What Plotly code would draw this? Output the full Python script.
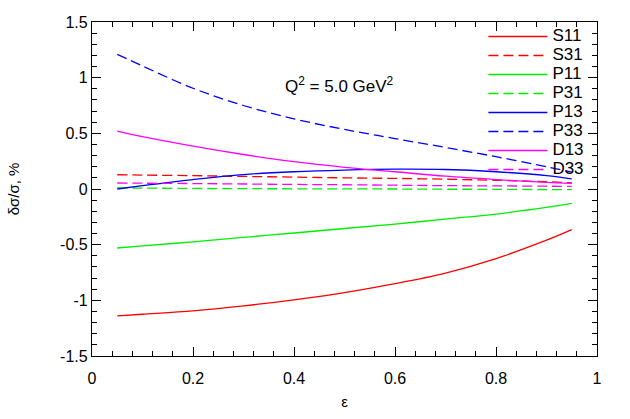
import plotly.graph_objects as go

eps = [0.05, 0.1, 0.2, 0.3, 0.4, 0.5, 0.6, 0.7, 0.8, 0.9, 0.95]

S11 = [-1.14, -1.125, -1.095, -1.05, -0.995, -0.93, -0.85, -0.755, -0.625, -0.46, -0.365]
S31 = [0.128, 0.125, 0.12, 0.113, 0.107, 0.10, 0.095, 0.088, 0.078, 0.065, 0.055]
P11 = [-0.53, -0.51, -0.475, -0.435, -0.395, -0.355, -0.315, -0.27, -0.225, -0.165, -0.13]
P31 = [0.01, 0.008, 0.005, 0.003, 0.002, 0.001, 0.0, -0.002, -0.003, -0.005, -0.006]
P13 = [0.0, 0.03, 0.085, 0.13, 0.155, 0.17, 0.178, 0.175, 0.155, 0.12, 0.09]
P33 = [1.21, 1.105, 0.905, 0.75, 0.63, 0.535, 0.453, 0.373, 0.29, 0.2, 0.152]
D13 = [0.52, 0.47, 0.385, 0.31, 0.245, 0.195, 0.155, 0.115, 0.085, 0.06, 0.05]
D33 = [0.054, 0.052, 0.049, 0.045, 0.041, 0.038, 0.034, 0.03, 0.028, 0.025, 0.024]

series = [
    ("S11", S11, "#ff0000", "solid"),
    ("S31", S31, "#ff0000", "10px,5px"),
    ("P11", P11, "#00ee00", "solid"),
    ("P31", P31, "#00ee00", "10px,5px"),
    ("P13", P13, "#0000ff", "solid"),
    ("P33", P33, "#0000ff", "10px,5px"),
    ("D13", D13, "#ff00ff", "solid"),
    ("D33", D33, "#ff00ff", "10px,5px"),
]

yticks = [-1.5, -1, -0.5, 0, 0.5, 1, 1.5]
yticktext = ["-1.5", "-1", "-0.5", "0", "0.5", "1", "1.5"]
xticks = [0, 0.2, 0.4, 0.6, 0.8, 1]
xticktext = ["0", "0.2", "0.4", "0.6", "0.8", "1"]

fig = go.Figure()
for name, ys, col, dash in series:
    fig.add_trace(go.Scatter(x=eps, y=ys,
                             name="<span style='font-size:17px'>%s</span>" % name,
                             mode="lines",
                             line=dict(color=col, width=1.3, dash=dash, shape="spline")))

font = "Liberation Sans, Arial, Helvetica, sans-serif"
axis_common = dict(showline=True, linecolor="black", linewidth=1.3, mirror="ticks",
                   ticks="inside", ticklen=9, tickwidth=1, tickcolor="black",
                   showgrid=False, zeroline=False,
                   tickfont=dict(size=16, family=font, color="black"))

fig.update_layout(
    width=630, height=419,
    margin=dict(l=92, r=33, t=22, b=63),
    paper_bgcolor="white", plot_bgcolor="white",
    font=dict(family=font, color="black"),
    xaxis=dict(range=[0, 1], tickvals=xticks, ticktext=xticktext,
               ticklabelstandoff=8,
               title=dict(text="ε", font=dict(size=15), standoff=10),
               minor=dict(dtick=0.04, ticks="inside", ticklen=5, tickcolor="black"),
               **axis_common),
    yaxis=dict(range=[-1.5, 1.5], tickvals=yticks, ticktext=yticktext,
               title=dict(text="δσ/σ, %", font=dict(size=15), standoff=36),
               minor=dict(dtick=0.1, ticks="inside", ticklen=5, tickcolor="black"),
               **axis_common),
    legend=dict(x=0.775, y=1.0, xanchor="left", yanchor="top",
                bgcolor="rgba(0,0,0,0)", font=dict(size=12, family=font),
                itemwidth=59, tracegroupgap=0),
    annotations=[dict(text="Q<sup>2</sup> = 5.0 GeV<sup>2</sup>", x=0.49, y=0.93,
                      xref="x", yref="y", showarrow=False,
                      font=dict(size=17, family=font))],
)

fig.write_html("out.html")
